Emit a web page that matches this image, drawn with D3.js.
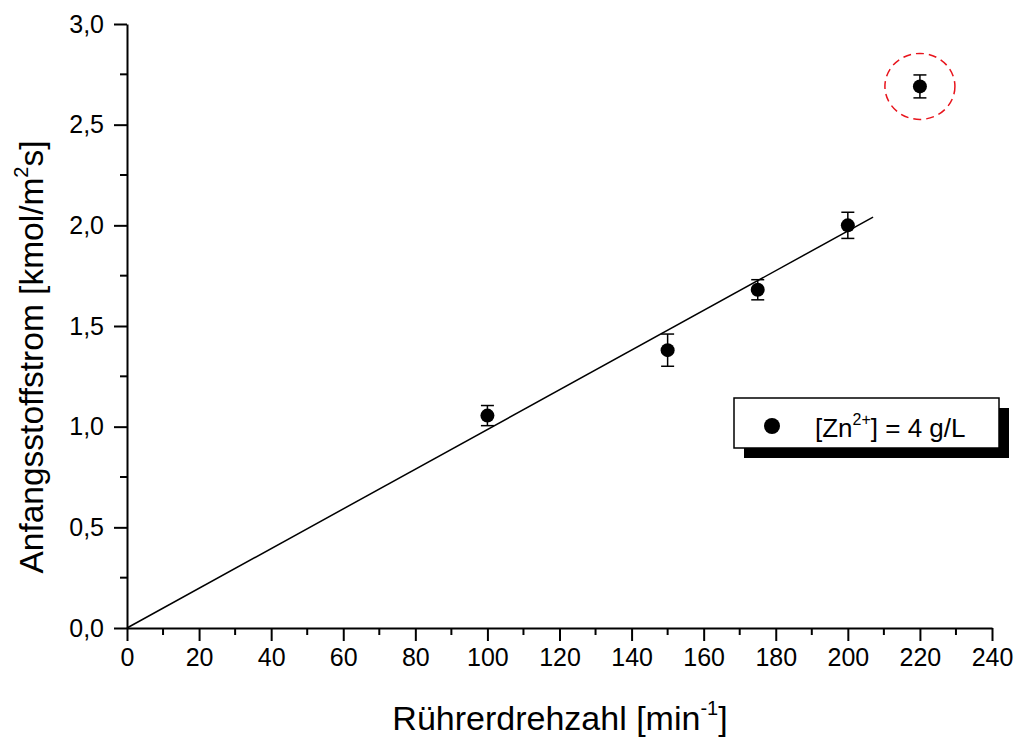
<!DOCTYPE html>
<html lang="de">
<head>
  <meta charset="UTF-8">
  <title>Anfangsstoffstrom vs Rührerdrehzahl</title>
  <script src="https://d3js.org/d3.v7.min.js"></script>
  <style>
    body { margin: 0; background: white; }
    svg { font-family: "Liberation Sans", Arial, sans-serif; }
  </style>
</head>
<body>
<svg width="1020" height="742"></svg>
<script>
  // data
  const rpm = [100, 150, 175, 200, 220];
  const flux = [1.055, 1.38, 1.68, 2.0, 2.69];
  const fluxErr = [0.05, 0.08, 0.05, 0.065, 0.057];
  const fitSlope = 0.00986;   // line through origin
  const fitRange = [0, 207];
  const outlierIndex = 4;
  const xTicks = d3.range(0, 241, 20);
  const yTicks = [0, 0.5, 1.0, 1.5, 2.0, 2.5, 3.0];

  const svg = d3.select("svg");
  const x = d3.scaleLinear().domain([0, 240]).range([127, 992]);
  const y = d3.scaleLinear().domain([0, 3]).range([628, 24]);
  const fmt = d => d3.format(".1f")(d).replace(".", ",");

  // fit line
  svg.append("line")
    .attr("x1", x(fitRange[0])).attr("y1", y(fitSlope * fitRange[0]))
    .attr("x2", x(fitRange[1])).attr("y2", y(fitSlope * fitRange[1]))
    .attr("stroke", "black").attr("stroke-width", 1.5);

  // axes
  const xAxis = svg.append("g").attr("transform", "translate(0,628)")
    .call(d3.axisBottom(x).tickValues(xTicks).tickSize(13).tickPadding(7).tickSizeOuter(0));
  xAxis.append("g").selectAll("line").data(d3.range(10, 240, 20)).join("line")
    .attr("x1", d => x(d)).attr("x2", d => x(d)).attr("y1", 0).attr("y2", 7)
    .attr("stroke", "black").attr("stroke-width", 2);

  const yAxis = svg.append("g").attr("transform", "translate(127,0)")
    .call(d3.axisLeft(y).tickValues(yTicks).tickFormat(fmt).tickSize(13).tickPadding(10).tickSizeOuter(0));
  yAxis.append("g").selectAll("line").data(d3.range(0.25, 3, 0.5)).join("line")
    .attr("y1", d => y(d)).attr("y2", d => y(d)).attr("x1", 0).attr("x2", -7)
    .attr("stroke", "black").attr("stroke-width", 2);

  svg.selectAll(".domain, .tick line").attr("stroke", "black").attr("stroke-width", 2);
  svg.selectAll(".tick text").attr("font-size", 25).attr("fill", "black")
    .attr("font-family", "'Liberation Sans', Arial, sans-serif");

  // error bars
  const pts = rpm.map((r, i) => ({ r, f: flux[i], e: fluxErr[i] }));
  const eb = svg.append("g").attr("stroke", "black").attr("stroke-width", 1.5);
  pts.forEach(d => {
    eb.append("line").attr("x1", x(d.r)).attr("x2", x(d.r))
      .attr("y1", y(d.f - d.e)).attr("y2", y(d.f + d.e));
    [d.f - d.e, d.f + d.e].forEach(v => {
      eb.append("line").attr("x1", x(d.r) - 6.5).attr("x2", x(d.r) + 6.5)
        .attr("y1", y(v)).attr("y2", y(v));
    });
  });

  svg.append("g").selectAll("circle").data(pts).join("circle")
    .attr("cx", d => x(d.r)).attr("cy", d => y(d.f)).attr("r", 7).attr("fill", "black");

  // highlighted outlier
  svg.append("ellipse")
    .attr("cx", x(rpm[outlierIndex])).attr("cy", y(flux[outlierIndex]))
    .attr("rx", 35).attr("ry", 33)
    .attr("fill", "none").attr("stroke", "#e8141c").attr("stroke-width", 1.5)
    .attr("stroke-dasharray", "8,5");

  // axis titles
  const xt = svg.append("text").attr("x", 560).attr("y", 730)
    .attr("text-anchor", "middle").attr("font-size", 34).text("Rührerdrehzahl [min");
  xt.append("tspan").attr("font-size", 20).attr("dy", -15).text("-1");
  xt.append("tspan").attr("dy", 15).text("]");

  const yt = svg.append("text").attr("transform", "translate(43,357) rotate(-90)")
    .attr("text-anchor", "middle").attr("font-size", 33.5).text("Anfangsstoffstrom [kmol/m");
  yt.append("tspan").attr("font-size", 20).attr("dy", -15).text("2");
  yt.append("tspan").attr("dy", 15).text("s]");

  // legend
  const lg = svg.append("g");
  lg.append("rect").attr("x", 744).attr("y", 408).attr("width", 265).attr("height", 50).attr("fill", "black");
  lg.append("rect").attr("x", 734).attr("y", 398).attr("width", 265).attr("height", 50)
    .attr("fill", "white").attr("stroke", "black").attr("stroke-width", 1.5);
  lg.append("circle").attr("cx", 772).attr("cy", 426).attr("r", 8).attr("fill", "black");
  const lt = lg.append("text").attr("x", 815).attr("y", 437).attr("font-size", 26).text("[Zn");
  lt.append("tspan").attr("font-size", 16).attr("dy", -12).text("2+");
  lt.append("tspan").attr("dy", 12).text("] = 4 g/L");
</script>
</body>
</html>
